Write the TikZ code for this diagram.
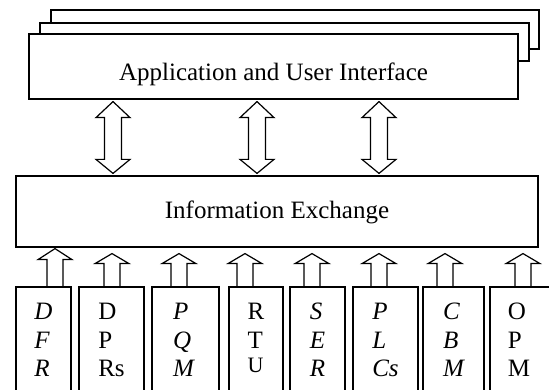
\documentclass[tikz,border=0pt]{standalone}
\usepackage{fontspec}
\setmainfont{Liberation Serif}
\usetikzlibrary{calc}
\newcommand\dblarrow[3]{% x, upper node, lower node
  \coordinate (p) at (#1,0 |- #2.south);
  \coordinate (q) at (#1,0 |- #3.north);
  \draw[blk] ($(p)+(0,2)$) -- ($(p)+(17,18)$) -- ($(p)+(8.5,18)$) -- ($(q)+(8.5,-16)$)
    -- ($(q)+(17,-16)$) -- ($(q)+(0,-2)$) -- ($(q)+(-17,-16)$) -- ($(q)+(-8.5,-16)$)
    -- ($(p)+(-8.5,18)$) -- ($(p)+(-17,18)$) -- cycle;}
\newcommand\uparr[5]{% x, tail node, tip node, gap, head length
  \coordinate (s) at (#1,0 |- #2.north);
  \coordinate (t) at (#1,0 |- #3.south);
  \draw[blk] ($(s)+(-8,0)$) -- ($(t)+(-8,#4+#5)$) -- ($(t)+(-17,#4+#5)$) -- ($(t)+(0,#4)$)
    -- ($(t)+(17,#4+#5)$) -- ($(t)+(8,#4+#5)$) -- ($(s)+(8,0)$);}
\begin{document}
\begin{tikzpicture}[x=1pt,y=-1pt,line width=1.2pt,
  box/.style={draw,fill=white,rectangle,inner sep=0pt},
  lbl/.style={inner sep=0pt,anchor=base,font=\fontsize{25}{29}\selectfont},
  blk/.style={draw,line join=miter}]
\clip (0,0) rectangle (549,390);
% stacked application boxes
\node[box,minimum width=488,minimum height=39] (back2) at (295,29.5) {};
\node[box,minimum width=489,minimum height=38] (back1) at (284.5,42) {};
\node[box,minimum width=489,minimum height=65] (app) at (273.5,66.5) {};
\node[lbl] (applbl) at (273.5,81) {Application and User Interface};
% information exchange
\node[box,minimum width=522,minimum height=71] (info) at (277,211.5) {};
\node[lbl] (infolbl) at (277,219) {Information Exchange};
% double arrows
\dblarrow{113}{app}{info}
\dblarrow{257}{app}{info}
\dblarrow{379}{app}{info}
% bottom boxes
\node[box,minimum width=55,minimum height=113] (b1) at (43.5,343.5) {};
\node[box,minimum width=65,minimum height=113] (b2) at (111.5,343.5) {};
\node[box,minimum width=67,minimum height=113] (b3) at (185.5,343.5) {};
\node[box,minimum width=54,minimum height=113] (b4) at (256,343.5) {};
\node[box,minimum width=55,minimum height=113] (b5) at (317.5,343.5) {};
\node[box,minimum width=65,minimum height=113] (b6) at (385.5,343.5) {};
\node[box,minimum width=61,minimum height=113] (b7) at (453.5,343.5) {};
\node[box,minimum width=65,minimum height=113] (b8) at (522.5,343.5) {};
% labels
\node[lbl] (l1) at (43.5,319) {\itshape\begin{tabular}[t]{@{}l@{}}D\\F\\R\end{tabular}};
\node[lbl] (l2) at (111.5,319) {\begin{tabular}[t]{@{}l@{}}D\\P\\Rs\end{tabular}};
\node[lbl] (l3) at (183.5,319) {\itshape\begin{tabular}[t]{@{}l@{}}P\\Q\\M\end{tabular}};
\node[lbl] (l4) at (256,319) {\begin{tabular}[t]{@{}l@{}}R\\T\\[-4pt]{\fontsize{22}{29}\selectfont U}\end{tabular}};
\node[lbl] (l5) at (317.5,319) {\itshape\begin{tabular}[t]{@{}l@{}}S\\E\\R\end{tabular}};
\node[lbl] (l6) at (385.5,319) {\itshape\begin{tabular}[t]{@{}l@{}}P\\L\\Cs\end{tabular}};
\node[lbl] (l7) at (453.5,319) {\itshape\begin{tabular}[t]{@{}l@{}}C\\B\\M\end{tabular}};
\node[lbl] (l8) at (519,319) {\begin{tabular}[t]{@{}l@{}}O\\P\\M\end{tabular}};
% up arrows
\uparr{55}{b1}{info}{1}{11}
\uparr{112}{b2}{info}{6}{10}
\uparr{179}{b3}{info}{6}{10}
\uparr{245}{b4}{info}{6}{10}
\uparr{312}{b5}{info}{6}{10}
\uparr{379}{b6}{info}{6}{10}
\uparr{445}{b7}{info}{6}{10}
\uparr{523}{b8}{info}{6}{10}
\end{tikzpicture}
\end{document}
